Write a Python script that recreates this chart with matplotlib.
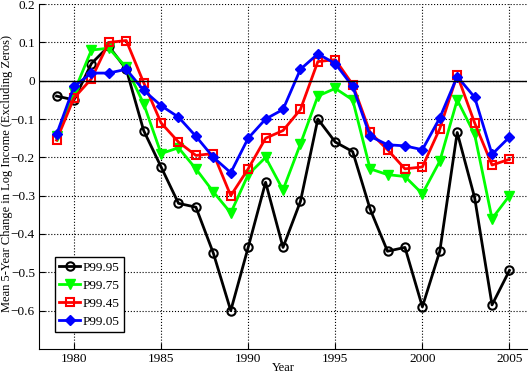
# Cambio medio a 5 años del log del ingreso por percentil
import matplotlib.pyplot as plt

years = list(range(1979, 2006))

p9995 = [-0.04, -0.05, 0.045, 0.09, 0.03, -0.13, -0.225, -0.32, -0.33, -0.45,
         -0.6, -0.435, -0.265, -0.435, -0.315, -0.1, -0.16, -0.185, -0.335, -0.445,
         -0.435, -0.59, -0.445, -0.135, -0.305, -0.585, -0.495]
p9975 = [-0.145, -0.03, 0.08, 0.085, 0.035, -0.06, -0.19, -0.175, -0.23, -0.29,
         -0.345, -0.245, -0.2, -0.285, -0.165, -0.04, -0.02, -0.05, -0.23, -0.245,
         -0.25, -0.295, -0.21, -0.05, -0.14, -0.36, -0.3]
p9945 = [-0.155, -0.045, 0.005, 0.1, 0.105, -0.005, -0.11, -0.16, -0.195, -0.19,
         -0.3, -0.23, -0.15, -0.13, -0.075, 0.05, 0.055, -0.01, -0.135, -0.18,
         -0.23, -0.225, -0.125, 0.015, -0.11, -0.22, -0.205]
p9905 = [-0.14, -0.015, 0.02, 0.02, 0.03, -0.025, -0.065, -0.095, -0.145, -0.2,
         -0.24, -0.15, -0.1, -0.075, 0.03, 0.07, 0.045, -0.015, -0.145, -0.167,
         -0.17, -0.18, -0.097, 0.011, -0.043, -0.192, -0.147]

plt.rcParams['font.family'] = ['Liberation Serif', 'DejaVu Serif']
plt.rcParams['font.size'] = 9

fig = plt.figure(figsize=(5.29, 3.74), dpi=100)
ax = fig.add_axes([0.074, 0.067, 0.922, 0.922])

ax.plot(years, p9995, color='black', marker='o', mfc='none', mew=1.5, ms=6, lw=2, label='P99.95')
ax.plot(years, p9975, color='#00ff00', marker='v', ms=7, lw=2, label='P99.75')
ax.plot(years, p9945, color='red', marker='s', mfc='none', mew=1.5, ms=6, lw=2, label='P99.45')
ax.plot(years, p9905, color='blue', marker='D', ms=5, lw=2, label='P99.05')

ax.axhline(0, color='black', lw=1)

ax.set_xlim(1978, 2006)
ax.set_ylim(-0.7, 0.2)
ax.set_xticks([1980, 1985, 1990, 1995, 2000, 2005])
ax.set_yticks([0.2, 0.1, 0, -0.1, -0.2, -0.3, -0.4, -0.5, -0.6])
ax.set_yticklabels(['0.2', '0.1', '0', '\u22120.1', '\u22120.2', '\u22120.3', '\u22120.4', '\u22120.5', '\u22120.6'])
ax.tick_params(direction='in', length=4, pad=3, labelsize=9.5)
ax.grid(True, color='black', linestyle=':', linewidth=0.8)

ax.spines['top'].set_visible(False)
ax.spines['right'].set_visible(False)

ax.set_xlabel('Year', labelpad=-2.5, fontsize=9)
ax.set_ylabel('Mean 5-Year Change in Log Income (Excluding Zeros)', fontsize=9, va='center')
ax.yaxis.set_label_coords(-0.066, 0.51)

leg = ax.legend(loc='lower left', bbox_to_anchor=(0.033, 0.049), borderaxespad=0,
                fancybox=False, framealpha=1, edgecolor='black', handlelength=1.6,
                borderpad=0.3, labelspacing=0.45, handletextpad=0.2, fontsize=9.5)
leg.get_frame().set_linewidth(1)

plt.savefig('out.png', dpi=100)
